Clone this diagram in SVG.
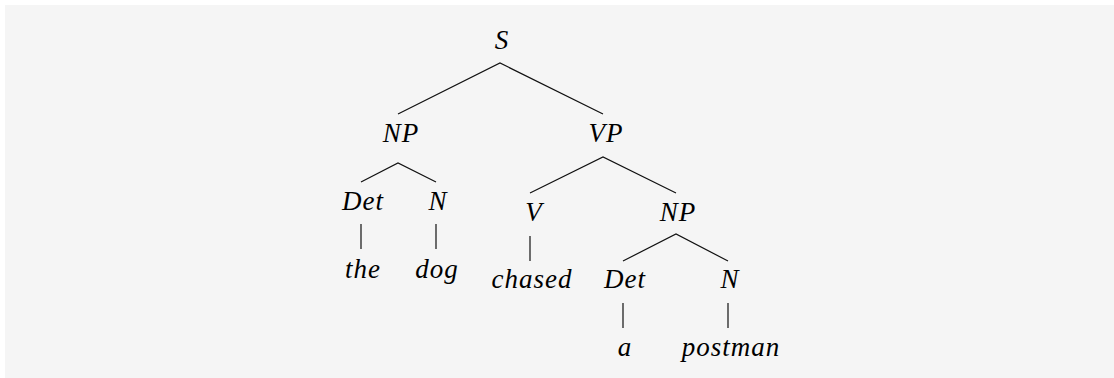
<svg xmlns="http://www.w3.org/2000/svg" width="1114" height="378" viewBox="0 0 1114 378">
  <style>
    .lbl { font-family: "Liberation Serif", "DejaVu Serif", serif; font-style: italic; font-size: 27px; letter-spacing: 1px; fill: #000; text-anchor: middle; }
    .edge { stroke: #111; stroke-width: 1.2; fill: none; }
  </style>
  <rect x="0" y="0" width="1114" height="378" fill="#ffffff"/>
  <rect x="5" y="5" width="1109" height="373" fill="#f5f5f5"/>

  <!-- branches of the parse tree -->
  <g id="edges">
    <path class="edge" d="M398 114 L500 63 L603 114"/>
    <path class="edge" d="M361 182 L398 163 L436 182"/>
    <path class="edge" d="M530 193 L603 157 L676 193"/>
    <path class="edge" d="M623 261 L676 234 L728 261"/>
    <path class="edge" d="M361 224 V249 M436 224 V249"/>
    <path class="edge" d="M530 236 V261"/>
    <path class="edge" d="M623 303 V328 M728 303 V328"/>
  </g>

  <g id="n-s"><text class="lbl" x="502" y="49">S</text></g>
  <g id="n-np1"><text class="lbl" x="401" y="142">NP</text></g>
  <g id="n-vp"><text class="lbl" x="606" y="142">VP</text></g>
  <g id="n-det1"><text class="lbl" x="363" y="210">Det</text></g>
  <g id="n-n1"><text class="lbl" x="438" y="210">N</text></g>
  <g id="n-the"><text class="lbl" x="363" y="278">the</text></g>
  <g id="n-dog"><text class="lbl" x="437" y="278">dog</text></g>
  <g id="n-v"><text class="lbl" x="534" y="221">V</text></g>
  <g id="n-np2"><text class="lbl" x="678" y="221">NP</text></g>
  <g id="n-chased"><text class="lbl" x="532" y="288">chased</text></g>
  <g id="n-det2"><text class="lbl" x="625" y="288">Det</text></g>
  <g id="n-n2"><text class="lbl" x="730" y="288">N</text></g>
  <g id="n-a"><text class="lbl" x="625" y="356">a</text></g>
  <g id="n-postman"><text class="lbl" x="731" y="356">postman</text></g>
</svg>
